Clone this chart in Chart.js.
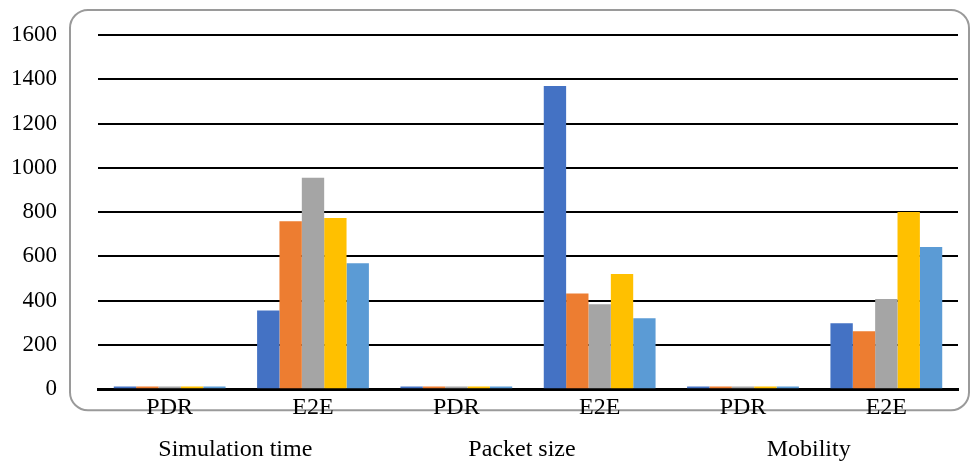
<!DOCTYPE html>
<html>
<head>
<meta charset="utf-8">
<script src="https://cdn.jsdelivr.net/npm/chart.js@4/dist/chart.umd.min.js"></script>
<style>
    html, body { margin: 0; padding: 0; background: #fff; }
    #wrap { width: 973px; height: 465px; }
</style>
</head>
<body>
<div id="wrap"><canvas id="chart"></canvas></div>
<script>
const categories = ['PDR', 'E2E', 'PDR', 'E2E', 'PDR', 'E2E'];
const groupNames = ['Simulation time', 'Packet size', 'Mobility'];
const seriesNames = ['Series 1', 'Series 2', 'Series 3', 'Series 4', 'Series 5'];
const series1 = [12, 355, 12, 1370, 12, 298];
const series2 = [12, 759, 12, 432, 12, 262];
const series3 = [12, 955, 12, 384, 12, 407];
const series4 = [12, 773, 12, 520, 12, 800];
const series5 = [12, 569, 12, 321, 12, 642];
const yTicks = [0, 200, 400, 600, 800, 1000, 1200, 1400, 1600];

const palette = ['#4472C4', '#ED7D31', '#A5A5A5', '#FFC000', '#5B9BD5'];
const fontFamily = "'Liberation Serif', 'Times New Roman', serif";

// rounded frame around the plot and group labels under the categories
const decorations = {
    id: 'decorations',
    beforeDraw(chart) {
        const { ctx, chartArea } = chart;
        const x0 = chartArea.left - 28, y0 = 10;
        const x1 = 969, y1 = chartArea.bottom + 21;
        ctx.save();
        ctx.strokeStyle = '#9a9a9a';
        ctx.lineWidth = 2;
        ctx.beginPath();
        ctx.roundRect(x0, y0, x1 - x0, y1 - y0, 18);
        ctx.stroke();
        ctx.restore();
    },
    afterDraw(chart) {
        const { ctx } = chart;
        const xs = chart.scales.x;
        ctx.save();
        ctx.fillStyle = '#000';
        ctx.font = '24px ' + fontFamily;
        ctx.textAlign = 'center';
        ctx.textBaseline = 'middle';
        groupNames.forEach((name, i) => {
            const a = xs.getPixelForValue(i * 2);
            const b = xs.getPixelForValue(i * 2 + 1);
            ctx.fillText(name, (a + b) / 2 - 6, 450);
        });
        ctx.restore();
    },
};

const sets = [series1, series2, series3, series4, series5];

new Chart(document.getElementById('chart'), {
    type: 'bar',
    data: {
        labels: categories,
        datasets: sets.map((d, i) => ({
            label: seriesNames[i],
            data: d,
            backgroundColor: palette[i],
            barPercentage: 1,
            categoryPercentage: 0.78,
        })),
    },
    options: {
        responsive: true,
        maintainAspectRatio: false,
        animation: false,
        layout: { padding: { left: 10, right: 15, top: 35, bottom: 39 } },
        plugins: {
            legend: { display: false },
            tooltip: { enabled: false },
        },
        scales: {
            x: {
                grid: { display: false, drawTicks: false },
                border: { color: '#000', width: 3 },
                ticks: {
                    color: '#000',
                    padding: 4,
                    font: { family: fontFamily, size: 24 },
                },
            },
            y: {
                min: 0,
                max: 1600,
                afterBuildTicks(scale) {
                    scale.ticks = yTicks.map((v) => ({ value: v }));
                },
                afterFit(scale) {
                    scale.width = 88;
                },
                grid: {
                    color: '#000',
                    lineWidth: 2,
                    drawTicks: true,
                    tickLength: 38,
                    tickColor: 'rgba(0,0,0,0)',
                },
                border: { display: false },
                ticks: {
                    color: '#000',
                    padding: 3,
                    font: { family: fontFamily, size: 23 },
                    callback: (v) => String(v),
                },
            },
        },
    },
    plugins: [decorations],
});
</script>
</body>
</html>
